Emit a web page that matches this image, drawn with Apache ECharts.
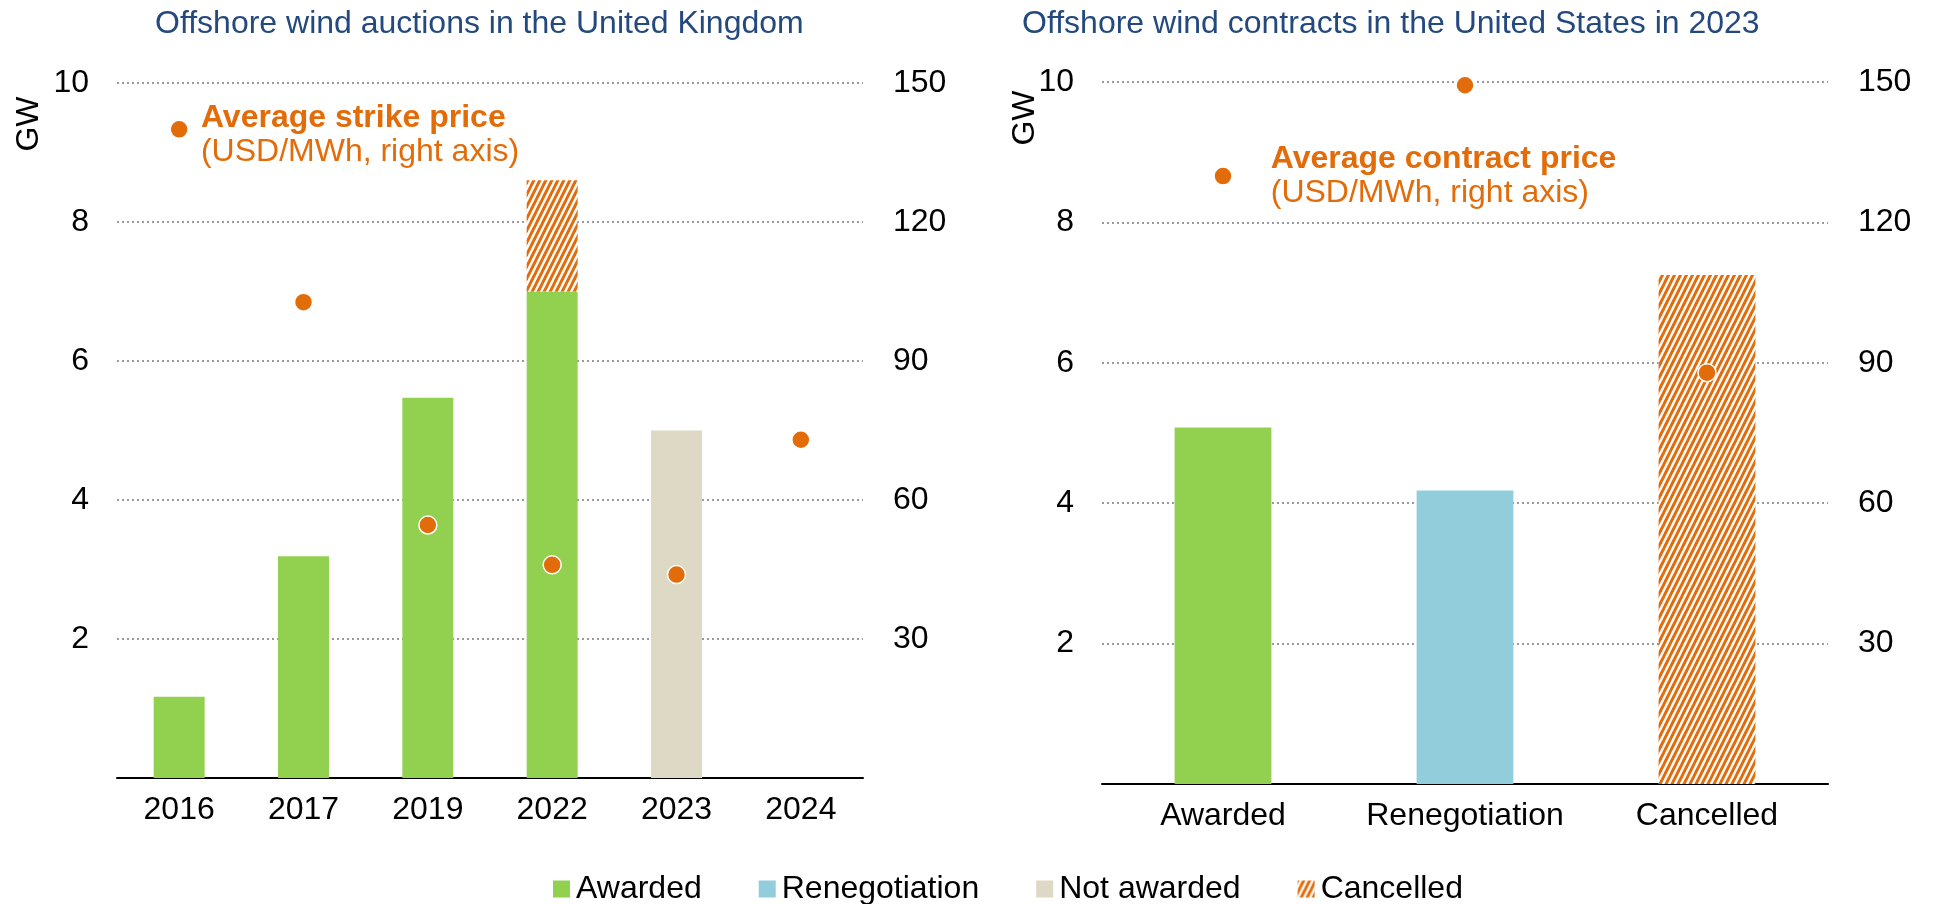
<!DOCTYPE html>
<html>
<head>
<meta charset="utf-8">
<script src="https://cdn.jsdelivr.net/npm/echarts@6/dist/echarts.min.js"></script>
<style>
html,body{margin:0;padding:0;background:#fff;}
#chart{width:1942px;height:904px;}
</style>
</head>
<body>
<div id="chart"></div>
<script>
// ---- Data ----
const ukCategories = ['2016', '2017', '2019', '2022', '2023', '2024'];
const ukAwarded    = [1.17, 3.19, 5.47, 7.0, null, null];
const ukNotAwarded = [null, null, null, null, 5.0, null];
const ukCancelled  = [null, null, null, 1.6, null, null];
const ukStrikePrice = [140, 102.7, 54.6, 46.0, 43.9, 73.0];

const usCategories = ['Awarded', 'Renegotiation', 'Cancelled'];
const usAwarded      = [5.08, null, null];
const usRenegotiation = [null, 4.18, null];
const usCancelled    = [null, null, 7.25];
const usContractPrice = [129.9, 149.3, 87.9];

const leftTicks = { min: 0, max: 10, interval: 2 };
const rightTicks = { min: 0, max: 150, interval: 30 };

// ---- Styles ----
const FONT = "'Liberation Sans', Arial, sans-serif";
const FS = 32;
const ORANGE = '#E36C0A';
const GREEN = '#92D050';
const BLUE = '#92CDDC';
const BEIGE = '#DDD9C4';
const TITLE = '#24497E';
const GRIDC = '#9A9A9A';

function hatch() {
  const c = document.createElement('canvas');
  c.width = 6; c.height = 12;
  const ctx = c.getContext('2d');
  ctx.fillStyle = '#ffffff';
  ctx.fillRect(0, 0, 6, 12);
  ctx.strokeStyle = ORANGE;
  ctx.lineWidth = 3;
  [[-6, 12, 0, 0], [0, 12, 6, 0], [6, 12, 12, 0]].forEach(l => {
    ctx.beginPath();
    ctx.moveTo(l[0] - 1, l[1] + 2); ctx.lineTo(l[2] + 1, l[3] - 2);
    ctx.stroke();
  });
  return { image: c, repeat: 'repeat' };
}
const HATCH = hatch();

const chart = echarts.init(document.getElementById('chart'), null, { renderer: 'canvas' });

function yLeft(gi) {
  return {
    type: 'value', gridIndex: gi, position: 'left',
    min: leftTicks.min, max: leftTicks.max, interval: leftTicks.interval,
    axisLine: { show: false }, axisTick: { show: false },
    axisLabel: { showMinLabel: false, fontSize: FS, color: '#000', fontFamily: FONT, margin: 28 },
    splitLine: { show: true, lineStyle: { color: GRIDC, width: 2, type: [2, 3] } }
  };
}
function yRight(gi) {
  return {
    type: 'value', gridIndex: gi, position: 'right',
    min: rightTicks.min, max: rightTicks.max, interval: rightTicks.interval,
    axisLine: { show: false }, axisTick: { show: false },
    axisLabel: { showMinLabel: false, fontSize: FS, color: '#000', fontFamily: FONT, margin: 30 },
    splitLine: { show: false }
  };
}
function xAxis(gi, cats) {
  return {
    type: 'category', gridIndex: gi, data: cats,
    axisLine: { show: true, lineStyle: { color: '#000', width: 2 } },
    axisTick: { show: false },
    axisLabel: { interval: 0, hideOverlap: false, fontSize: FS, color: '#000', fontFamily: FONT, margin: 16 }
  };
}

function priceLabel(bold, normal, dist, off) {
  return {
    show: true, position: 'right', distance: dist, offset: off,
    formatter: '{b|' + bold + '}\n{n|' + normal + '}',
    rich: {
      b: { fontSize: FS, fontWeight: 'bold', color: ORANGE, fontFamily: FONT, lineHeight: 34 },
      n: { fontSize: FS, color: ORANGE, fontFamily: FONT, lineHeight: 34 }
    }
  };
}

const ukPriceData = ukStrikePrice.map((v, i) => i === 0
  ? { value: v, label: priceLabel('Average strike price', '(USD/MWh, right axis)', 12, [0, 6]) }
  : v);
const usPriceData = usContractPrice.map((v, i) => i === 0
  ? { value: v, label: priceLabel('Average contract price', '(USD/MWh, right axis)', 38, [0, 0]) }
  : v);

const scatterStyle = { color: ORANGE, borderColor: '#fff', borderWidth: 1.5, opacity: 1 };

const gwText = (x, y) => ({
  type: 'text', x: x, y: y, rotation: Math.PI / 2,
  style: { text: 'GW', fill: '#000', font: FS + 'px ' + FONT, align: 'center', verticalAlign: 'middle' }
});

const option = {
  animation: false,
  backgroundColor: '#fff',
  textStyle: { fontFamily: FONT },
  title: [
    { text: 'Offshore wind auctions in the United Kingdom', left: 155, top: 8, padding: 0,
      textStyle: { fontSize: FS, fontWeight: 'normal', color: TITLE, fontFamily: FONT } },
    { text: 'Offshore wind contracts in the United States in 2023', left: 1022, top: 8, padding: 0,
      textStyle: { fontSize: FS, fontWeight: 'normal', color: TITLE, fontFamily: FONT } }
  ],
  legend: {
    data: ['Awarded', 'Renegotiation', 'Not awarded', 'Cancelled'],
    left: 553, top: 873, padding: 0,
    icon: 'rect', itemWidth: 17, itemHeight: 17, itemGap: 57,
    textStyle: { fontSize: FS, color: '#000', fontFamily: FONT, padding: [0, 0, 0, 1] },
    selectedMode: false
  },
  graphic: [gwText(29, 124), gwText(1025, 118)],
  grid: [
    { left: 117, right: 1079, top: 83, bottom: 126 },
    { left: 1102, right: 114, top: 82, bottom: 120 }
  ],
  xAxis: [xAxis(0, ukCategories), xAxis(1, usCategories)],
  yAxis: [yLeft(0), yRight(0), yLeft(1), yRight(1)],
  series: [
    { name: 'Awarded', type: 'bar', stack: 'uk', xAxisIndex: 0, yAxisIndex: 0, barWidth: '41%',
      itemStyle: { color: GREEN }, data: ukAwarded },
    { name: 'Not awarded', type: 'bar', stack: 'uk', xAxisIndex: 0, yAxisIndex: 0, barWidth: '41%',
      itemStyle: { color: BEIGE }, data: ukNotAwarded },
    { name: 'Cancelled', type: 'bar', stack: 'uk', xAxisIndex: 0, yAxisIndex: 0, barWidth: '41%',
      itemStyle: { color: HATCH }, data: ukCancelled },
    { name: 'Awarded', type: 'bar', stack: 'us', xAxisIndex: 1, yAxisIndex: 2, barWidth: '40%',
      itemStyle: { color: GREEN }, data: usAwarded },
    { name: 'Renegotiation', type: 'bar', stack: 'us', xAxisIndex: 1, yAxisIndex: 2, barWidth: '40%',
      itemStyle: { color: BLUE }, data: usRenegotiation },
    { name: 'Cancelled', type: 'bar', stack: 'us', xAxisIndex: 1, yAxisIndex: 2, barWidth: '40%',
      itemStyle: { color: HATCH }, data: usCancelled },
    { name: 'Average strike price', type: 'scatter', xAxisIndex: 0, yAxisIndex: 1,
      symbol: 'circle', symbolSize: 18, itemStyle: scatterStyle, data: ukPriceData, z: 5 },
    { name: 'Average contract price', type: 'scatter', xAxisIndex: 1, yAxisIndex: 3,
      symbol: 'circle', symbolSize: 18, itemStyle: scatterStyle, data: usPriceData, z: 5 }
  ]
};
chart.setOption(option);
</script>
</body>
</html>
